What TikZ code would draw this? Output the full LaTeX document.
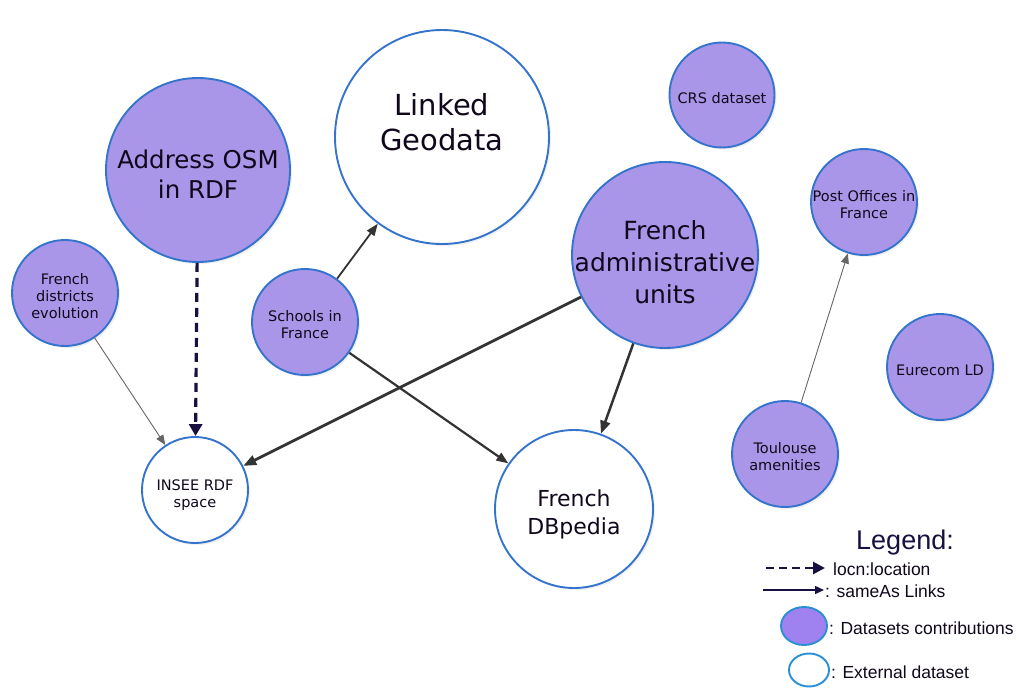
\documentclass[tikz,border=0pt]{standalone}
\usepackage{fontspec}
\setmainfont{DejaVu Sans}
\newfontfamily\legfont{Liberation Sans}
\usetikzlibrary{arrows.meta,shadows,shapes.geometric}
\definecolor{pfill}{HTML}{A996E8}
\definecolor{legpurple}{HTML}{9F82F0}
\definecolor{bord}{HTML}{3574CC}
\definecolor{txt}{HTML}{10081A}
\definecolor{navy}{HTML}{1A1040}
\definecolor{darkarr}{HTML}{333333}
\tikzset{
  ds/.style={circle, draw=bord, line width=1.9pt, inner sep=0pt, align=center, text=txt,
     drop shadow={opacity=0.12, shadow xshift=2pt, shadow yshift=-2pt}},
  contrib/.style={ds, fill=pfill},
  extern/.style={ds, fill=white},
  smalltxt/.style={label={[font=\fontsize{14.5}{17}\selectfont, align=center, text=txt, inner sep=0pt, yshift=-3pt]center:{#1}}},
  thinarr/.style={draw=gray!80!black, line width=0.9pt, -{Triangle[length=10pt,width=8pt]}},
  medarr/.style={draw=darkarr, line width=1.8pt, -{Triangle[length=12pt,width=9pt]}},
  thickarr/.style={draw=darkarr, line width=2.8pt, -{Triangle[length=13pt,width=10pt]}},
  dasharr/.style={draw=navy, line width=3.2pt, dash pattern=on 9pt off 6pt, -{Triangle[length=12pt,width=13pt]}},
  legtext/.style={font=\legfont\fontsize{17.5}{20}\selectfont, text=txt, anchor=west, inner sep=0pt},
}
\begin{document}
\begin{tikzpicture}[x=1pt,y=-1pt]
\useasboundingbox[fill=white] (0,0) rectangle (1019,688);
% nodes
\node[extern, minimum size=214pt] (lg) at (442,137) {};
\node[font=\fontsize{29}{35}\selectfont, text=txt, align=center] (lgt) at (442,122) {Linked\\Geodata};
\node[contrib, minimum size=184pt] (osm) at (198,170) {};
\node[font=\fontsize{24.5}{30}\selectfont, text=txt, align=center] (osmt) at (198,174) {Address OSM\\in RDF};
\node[contrib, minimum size=105pt, smalltxt={CRS dataset}] (crs) at (722,95) {};
\node[contrib, minimum size=106pt, smalltxt={Post Offices in\\France}] (post) at (864,202) {};
\node[contrib, minimum size=186pt] (adm) at (665,255) {};
\node[font=\fontsize{25}{32}\selectfont, text=txt, align=center] (admt) at (665,262) {French\\administrative\\units};
\node[contrib, minimum size=106pt, smalltxt={French\\districts\\evolution}] (dist) at (65,293) {};
\node[contrib, minimum size=106pt, smalltxt={Schools in\\France}] (sch) at (305,322) {};
\node[contrib, minimum size=106pt, smalltxt={Eurecom LD}] (eur) at (940,367) {};
\node[contrib, minimum size=106pt, smalltxt={Toulouse\\amenities}] (tou) at (785,454) {};
\node[extern, minimum size=106pt] (insee) at (195,490) {};
\node[font=\fontsize{14.5}{17}\selectfont, text=txt, align=center] (inseet) at (195,495) {INSEE RDF\\space};
\node[extern, minimum size=158pt] (dbp) at (574,509) {};
\node[font=\fontsize{22}{28}\selectfont, text=txt, align=center] (dbpt) at (574,514) {French\\DBpedia};
% connectors
\draw[thinarr] (dist) -- (insee);
\draw[dasharr] (osm) -- (insee);
\draw[medarr] (sch) -- (lg);
\draw[medarr, line width=2.2pt] (sch) -- (dbp);
\draw[thickarr] (adm) -- (insee);
\draw[thickarr, line width=2.5pt] (adm) -- (dbp);
\draw[thinarr] (tou) -- (post);
% legend
\node[font=\legfont\fontsize{27}{30}\selectfont, text=navy] (legt) at (905,543) {Legend:};
\coordinate (l1a) at (766,568); \coordinate (l1b) at (825,568);
\draw[navy, line width=2.8pt, dash pattern=on 8pt off 5pt, -{Triangle[length=12pt,width=12pt]}] (l1a) -- (l1b);
\node[legtext] (l1t) at (833,569) {locn:location};
\coordinate (l2a) at (763,590); \coordinate (l2b) at (824,590);
\draw[navy, line width=1.4pt, -{Triangle[length=9pt,width=8pt]}] (l2a) -- (l2b);
\node[legtext] (l2t) at (825,591) {: sameAs Links};
\node[ellipse, draw=bord!80!cyan, line width=1.9pt, fill=legpurple, minimum width=46pt, minimum height=38pt, inner sep=0pt] (l3e) at (804,626) {};
\node[legtext] (l3t) at (829,628) {: Datasets contributions};
\node[ellipse, draw=bord!80!cyan, line width=1.9pt, fill=white, minimum width=40pt, minimum height=33pt, inner sep=0pt] (l4e) at (809,670) {};
\node[legtext] (l4t) at (831,672) {: External dataset};
\end{tikzpicture}
\end{document}
